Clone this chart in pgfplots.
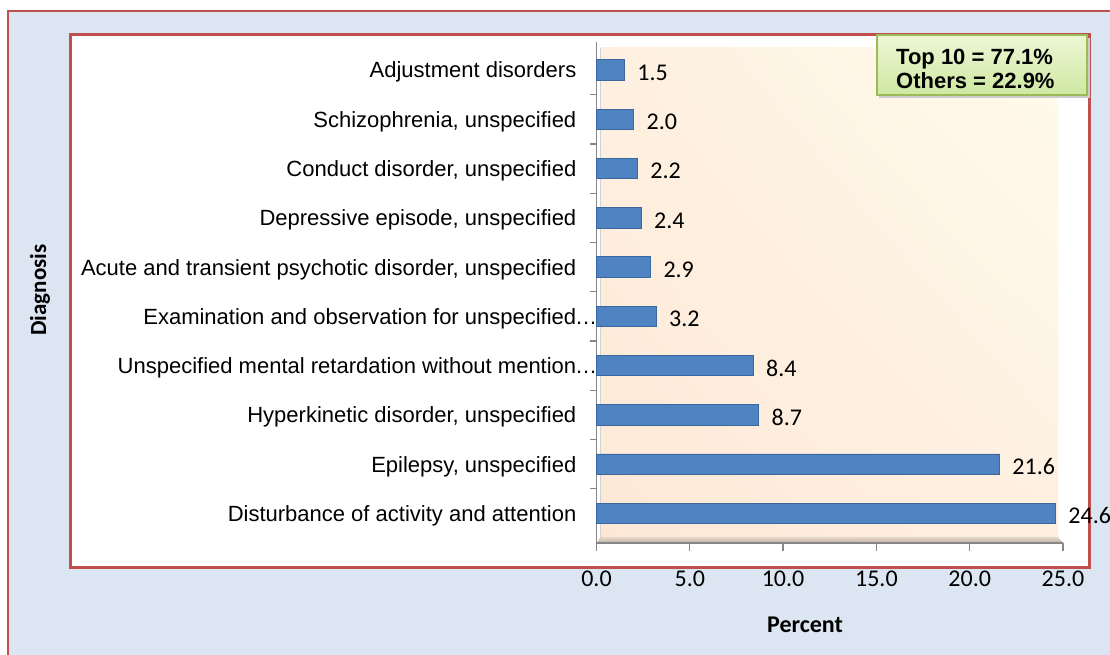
\documentclass[border=0pt]{standalone}
\usepackage{fontspec}
\setmainfont{Liberation Sans}
\newfontfamily\carlito{Carlito}
\usepackage{pgfplots}
\usetikzlibrary{shadings}
\pgfplotsset{compat=1.18}
\definecolor{redc}{HTML}{C0504D}
\definecolor{bgblue}{HTML}{DCE6F2}
\definecolor{barblue}{HTML}{5083C2}
\definecolor{baredge}{HTML}{3A679E}
\definecolor{axgray}{HTML}{868686}
\definecolor{wallLL}{HTML}{FDE8D6}
\definecolor{wallUL}{HTML}{FEF0E0}
\definecolor{wallUR}{HTML}{FFFBEC}
\definecolor{wallLR}{HTML}{FEF0E1}
\definecolor{gbdr}{HTML}{9BBB59}
\definecolor{gtop}{HTML}{EDF7D6}
\definecolor{gbot}{HTML}{CFE8A2}
\definecolor{floortop}{HTML}{E6D9CC}
\definecolor{floorbot}{HTML}{BFB1A3}
\begin{document}
\begin{tikzpicture}
\useasboundingbox (0pt,0pt) rectangle (1110pt,655pt);
\clip (0pt,0pt) rectangle (1110pt,655pt);
\begin{scope}[x=1pt,y=1pt]
\fill[white] (0,0) rectangle (1110,655);
\fill[bgblue] (8,-10) rectangle (1120,644);
\draw[redc, line width=1.5pt] (8,-10) -- (8,644) -- (1120,644);
\filldraw[fill=white, draw=redc, line width=3pt] (70,87) rectangle (1089,620);
\shade[upper left=wallUL, upper right=wallUR, lower left=wallLL, lower right=wallLR] (600,117) rectangle (1058,607);
\shade[top color=floortop, bottom color=floorbot] (600,118) -- (1058,118) -- (1063,112) -- (597,112) -- cycle;
\draw[gray!35, line width=1pt] (600,117) -- (600,607);
\end{scope}
\begin{axis}[
  at={(596.5pt,112pt)}, anchor=south west,
  scale only axis, width=466.5pt, height=501pt,
  xbar, bar width=20.5pt,
  xmin=0, xmax=25, ymin=-0.6, ymax=9.57,
  axis x line*=bottom, axis y line*=left,
  axis line style={axgray, line width=1.3pt},
  xtick={0,5,...,25},
  ytick={0,...,9},
  yticklabels={Disturbance of activity and attention,
    {Epilepsy, unspecified},
    {Hyperkinetic disorder, unspecified},
    Unspecified mental retardation without mention\rlap{\kern-1pt…},
    Examination and observation for unspecified\rlap{\kern-1pt…},
    {Acute and transient psychotic disorder, unspecified},
    {Depressive episode, unspecified},
    {Conduct disorder, unspecified},
    {Schizophrenia, unspecified},
    Adjustment disorders},
  minor ytick={0.5,1.5,...,8.5},
  tick align=outside,
  major tick length=8pt,
  minor tick length=7pt,
  tick style={axgray, line width=1.3pt},
  major y tick style={draw=none},
  /pgf/number format/.cd, fixed, fixed zerofill, precision=1, assume math mode=true,
  /pgfplots/.cd,
  xticklabel style={inner sep=0pt, yshift=-20pt, font=\carlito\fontsize{24}{24}\selectfont, black},
  yticklabel style={anchor=base east, inner sep=0pt, xshift=-12pt, yshift=-7.9pt, font=\fontsize{22}{26}\selectfont, black},
  point meta=x,
  nodes near coords={\pgfmathprintnumber[fixed,fixed zerofill,precision=1]{\pgfplotspointmeta}},
  nodes near coords style={anchor=west, inner sep=0pt, xshift=12.5pt, yshift=-2.5pt, font=\carlito\fontsize{24}{24}\selectfont, black},
  clip=false,
]
\addplot[fill=barblue, draw=baredge, line width=0.8pt] coordinates {
  (24.6,0) (21.6,1) (8.7,2) (8.4,3) (3.2,4) (2.9,5) (2.4,6) (2.2,7) (2.0,8) (1.5,9)};
\end{axis}
\begin{scope}[x=1pt,y=1pt]
\node[rotate=90, font=\carlito\bfseries\fontsize{23}{23}\selectfont] at (40,365) {Diagnosis};
\node[font=\carlito\bfseries\fontsize{24}{24}\selectfont] at (805,30) {Percent};
\fill[black!20] (879,557) rectangle (1090,617);
\shade[top color=gtop, bottom color=gbot] (877,560) rectangle (1087,620);
\draw[gbdr, line width=1.5pt] (877,560) rectangle (1087,620);
\node[anchor=base west, inner sep=0pt, font=\bfseries\fontsize{22}{24}\selectfont] at (896,590) {Top 10 = 77.1\%};
\node[anchor=base west, inner sep=0pt, font=\bfseries\fontsize{22}{24}\selectfont] at (896,566) {Others = 22.9\%};
\end{scope}
\end{tikzpicture}
\end{document}
